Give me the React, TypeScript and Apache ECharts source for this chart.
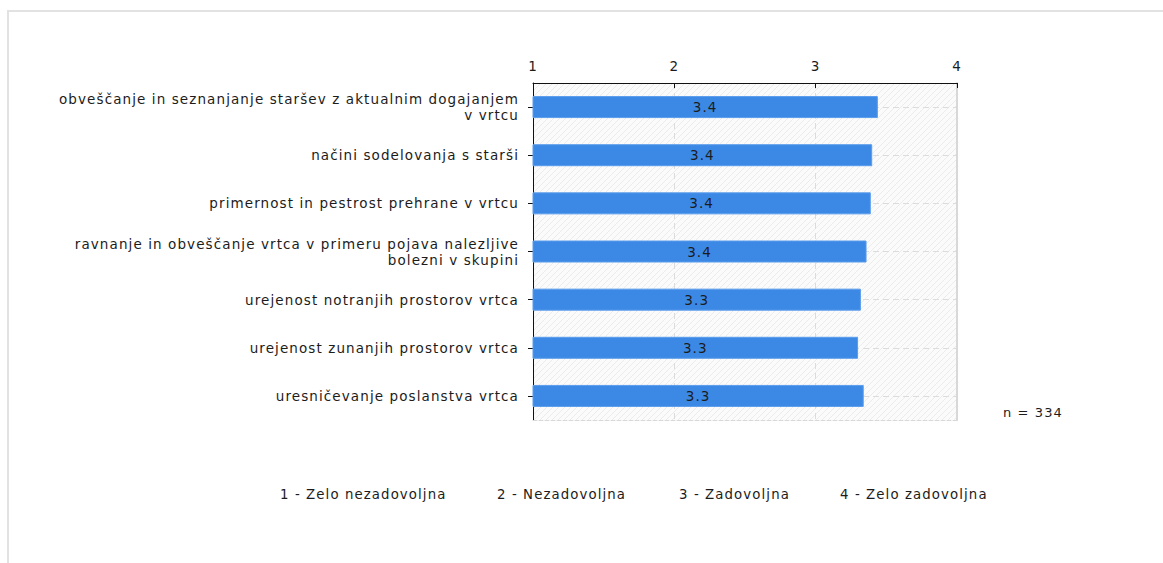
import React, { useEffect, useRef } from 'react';
import * as echarts from 'echarts';

const categories: string[] = [
  'obveščanje in seznanjanje staršev z aktualnim dogajanjem\nv vrtcu',
  'načini sodelovanja s starši',
  'primernost in pestrost prehrane v vrtcu',
  'ravnanje in obveščanje vrtca v primeru pojava nalezljive\nbolezni v skupini',
  'urejenost notranjih prostorov vrtca',
  'urejenost zunanjih prostorov vrtca',
  'uresničevanje poslanstva vrtca',
];

const values: number[] = [3.44, 3.4, 3.39, 3.36, 3.32, 3.3, 3.34];

const scaleMin = 1;
const scaleMax = 4;
const scaleStep = 1;

const legendLabels: string[] = [
  '1 - Zelo nezadovoljna',
  '2 - Nezadovoljna',
  '3 - Zadovoljna',
  '4 - Zelo zadovoljna',
];

const sampleNote = 'n = 334';

const FONT = 'DejaVu Sans';
const TEXT = '#1c1c1c';

export default function App() {
  const ref = useRef<HTMLDivElement>(null);

  useEffect(() => {
    document.body.style.margin = '0';
    const style = document.createElement('style');
    style.textContent = '#root svg text { letter-spacing: 1.1px; }';
    document.head.appendChild(style);

    const hatch = document.createElement('canvas');
    hatch.width = 6;
    hatch.height = 6;
    const ctx = hatch.getContext('2d')!;
    ctx.fillStyle = '#fbfbfb';
    ctx.fillRect(0, 0, 6, 6);
    ctx.strokeStyle = '#ebebeb';
    ctx.lineWidth = 1;
    ctx.beginPath();
    ctx.moveTo(0, 6);
    ctx.lineTo(6, 0);
    ctx.moveTo(-1, 1);
    ctx.lineTo(1, -1);
    ctx.moveTo(5, 7);
    ctx.lineTo(7, 5);
    ctx.stroke();

    const chart = echarts.init(ref.current!, null, { renderer: 'svg' });

    const legendX = [280, 497, 679, 840];

    chart.setOption({
      animation: false,
      textStyle: { fontFamily: FONT, color: TEXT },
      grid: {
        left: 533,
        right: 206,
        top: 83,
        bottom: 143,
        show: true,
        borderWidth: 0,
        backgroundColor: { image: hatch, repeat: 'repeat' },
      },
      xAxis: [
        {
          type: 'value',
          position: 'top',
          min: scaleMin,
          max: scaleMax,
          interval: scaleStep,
          axisLine: { show: true, lineStyle: { color: '#111', width: 1 } },
          axisTick: { show: true, inside: true, length: 5, lineStyle: { color: '#111' } },
          axisLabel: { color: TEXT, fontSize: 13.5, margin: 10, fontFamily: FONT },
          splitLine: { show: true, lineStyle: { color: '#dcdcdc', type: [6, 4] } },
        },
        {
          type: 'value',
          position: 'bottom',
          min: scaleMin,
          max: scaleMax,
          interval: scaleStep,
          axisLine: { show: true, lineStyle: { color: '#d8d8d8', type: [4, 2] } },
          axisTick: { show: false },
          axisLabel: { show: false },
          splitLine: { show: false },
        },
      ],
      yAxis: [
        {
          type: 'category',
          data: categories,
          inverse: true,
          axisLine: { show: true, lineStyle: { color: '#111', width: 1 } },
          axisTick: { show: true, alignWithLabel: true, length: 5, lineStyle: { color: '#111' } },
          axisLabel: { color: TEXT, fontSize: 13.5, lineHeight: 16, margin: 14, fontFamily: FONT },
          splitLine: { show: false },
        },
        {
          type: 'category',
          data: categories,
          inverse: true,
          position: 'right',
          axisLine: { show: true, lineStyle: { color: '#d8d8d8', width: 2 } },
          axisTick: { show: false },
          axisLabel: { show: false },
          splitLine: { show: false },
        },
      ],
      series: [
        {
          type: 'line',
          xAxisIndex: 0,
          yAxisIndex: 0,
          data: [],
          z: 0,
          silent: true,
          markLine: {
            silent: true,
            z: 0,
            symbol: 'none',
            label: { show: false },
            lineStyle: { color: '#dcdcdc', type: [6, 4], width: 1 },
            data: categories.map((c) => ({ yAxis: c })),
          },
        },
        {
          type: 'bar',
          xAxisIndex: 0,
          yAxisIndex: 0,
          data: values,
          barWidth: 22,
          z: 6,
          itemStyle: { color: '#3b89e5', borderColor: '#5a9cec', borderWidth: 1 },
          label: {
            show: true,
            position: 'inside',
            color: TEXT,
            fontSize: 13.5,
            fontFamily: FONT,
            formatter: (p: any) => Number(p.value).toFixed(1),
          },
        },
      ],
      graphic: [
        {
          type: 'rect',
          silent: true,
          shape: { x: 8, y: 11, width: 1170, height: 600 },
          style: { fill: 'none', stroke: '#e2e2e2', lineWidth: 2 },
        },
        {
          type: 'text',
          x: 1003,
          y: 412,
          style: {
            text: sampleNote,
            fill: TEXT,
            font: `13px "${FONT}"`,
            verticalAlign: 'middle',
          },
        },
        ...legendLabels.map((t, i) => ({
          type: 'text',
          x: legendX[i],
          y: 494,
          style: {
            text: t,
            fill: TEXT,
            font: `13.3px "${FONT}"`,
            verticalAlign: 'middle',
          },
        })),
      ],
    });

    return () => {
      chart.dispose();
      style.remove();
    };
  }, []);

  return <div ref={ref} style={{ width: 1163, height: 563 }} />;
}
